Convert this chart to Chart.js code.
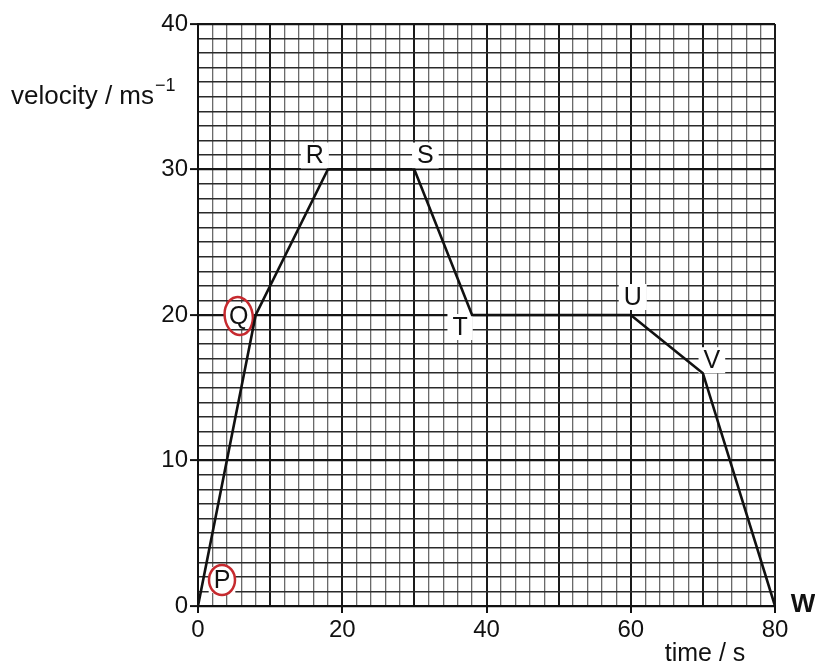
<!DOCTYPE html>
<html>
<head>
<meta charset="utf-8">
<script src="https://cdn.jsdelivr.net/npm/chart.js@4.4.1/dist/chart.umd.min.js"></script>
<style>
  html, body { margin: 0; padding: 0; background: #fff; }
  canvas { display: block; }
</style>
</head>
<body>
<canvas id="c" width="815" height="666"></canvas>
<script>
// values
const times = [0, 8, 18, 30, 38, 60, 70, 80]
const velocities = [0, 20, 30, 30, 20, 20, 16, 0]
const pointNames = ['P', 'Q', 'R', 'S', 'T', 'U', 'V', 'W']
const xTickLabels = [0, 20, 40, 60, 80]
const yTickLabels = [0, 10, 20, 30, 40]
const yTitle = 'velocity / ms'
const yTitleSup = '−1'
const xTitle = 'time / s'

// pixel nudges for the point letters, relative to their point
const labelOffsets = {
  P: [24, -26], Q: [-17, 1], R: [-13, -14], S: [11, -14],
  T: [-12, 12], U: [2, -18], V: [9, -13], W: [28, -2],
}
const circled = { P: [13, 15, 0], Q: [14, 19, -0.15] }

const FONT = '"Liberation Sans", Arial, sans-serif'
const INK = '#111'

const pointLetters = {
  id: 'pointLetters',
  beforeDatasetsDraw(chart) {
    const { ctx, scales } = chart
    ctx.save()
    ctx.textAlign = 'center'
    ctx.textBaseline = 'middle'
    pointNames.forEach((name, i) => {
      const off = labelOffsets[name]
      const x = scales.x.getPixelForValue(times[i]) + off[0]
      const y = scales.y.getPixelForValue(velocities[i]) + off[1]
      ctx.font = name === 'W' ? 'bold 26px ' + FONT : '25px ' + FONT
      const w = ctx.measureText(name).width
      if (name !== 'W') {
        ctx.fillStyle = '#fff'
        ctx.fillRect(x - w / 2 - 5, y - 13, w + 10, 26)
      }
      ctx.fillStyle = INK
      ctx.fillText(name, x, y + 1)
      if (circled[name]) {
        const [rx, ry, rot] = circled[name]
        ctx.strokeStyle = '#c62a2f'
        ctx.lineWidth = 2.5
        ctx.beginPath()
        ctx.ellipse(x, y, rx, ry, rot, 0, Math.PI * 2)
        ctx.stroke()
      }
    })
    ctx.restore()
  },
  afterDraw(chart) {
    const { ctx, scales } = chart
    ctx.save()
    ctx.fillStyle = INK
    ctx.textBaseline = 'alphabetic'
    ctx.textAlign = 'left'
    ctx.font = '26px ' + FONT
    ctx.fillText(yTitle, 11, 104)
    const w = ctx.measureText(yTitle).width
    ctx.font = '18px ' + FONT
    ctx.fillText(yTitleSup, 11 + w + 1, 91)
    ctx.font = '25px ' + FONT
    ctx.textAlign = 'center'
    ctx.fillText(xTitle, scales.x.getPixelForValue(70.3), 661)
    ctx.restore()
  },
}

new Chart(document.getElementById('c'), {
  type: 'line',
  data: {
    datasets: [{
      data: times.map((t, i) => ({ x: t, y: velocities[i] })),
      borderColor: INK,
      borderWidth: 2.6,
      pointRadius: 0,
      tension: 0,
      fill: false,
    }],
  },
  options: {
    responsive: false,
    animation: false,
    devicePixelRatio: 1,
    layout: { padding: { top: 24, right: 40, left: 0, bottom: 0 } },
    plugins: { legend: { display: false }, tooltip: { enabled: false } },
    scales: {
      x: {
        type: 'linear',
        min: 0,
        max: 80,
        afterFit: s => { s.height = 60 },
        border: { display: true, color: INK, width: 2 },
        grid: {
          color: c => (c.tick.value % 10 === 0 ? '#1a1a1a' : '#6a6a6a'),
          lineWidth: c => (c.tick.value % 10 === 0 ? 2 : 1.3),
          tickColor: c => (xTickLabels.includes(c.tick.value) ? INK : 'rgba(0,0,0,0)'),
          tickLength: 7,
          tickWidth: 2,
        },
        ticks: {
          stepSize: 2,
          autoSkip: false,
          maxRotation: 0,
          padding: 3,
          color: INK,
          font: { family: FONT, size: 24 },
          callback: v => (xTickLabels.includes(v) ? String(v) : ''),
        },
      },
      y: {
        type: 'linear',
        min: 0,
        max: 40,
        afterFit: s => { s.width = 198 },
        border: { display: true, color: INK, width: 2 },
        grid: {
          color: c => (c.tick.value % 10 === 0 ? '#141414' : '#2a2a2a'),
          lineWidth: c => (c.tick.value % 10 === 0 ? 2.2 : 1.6),
          tickColor: c => (yTickLabels.includes(c.tick.value) ? INK : 'rgba(0,0,0,0)'),
          tickLength: 8,
          tickWidth: 2,
        },
        ticks: {
          stepSize: 1,
          autoSkip: false,
          padding: 2,
          color: INK,
          font: { family: FONT, size: 24 },
          callback: v => (yTickLabels.includes(v) ? String(v) : ''),
        },
      },
    },
  },
  plugins: [pointLetters],
})
</script>
</body>
</html>
